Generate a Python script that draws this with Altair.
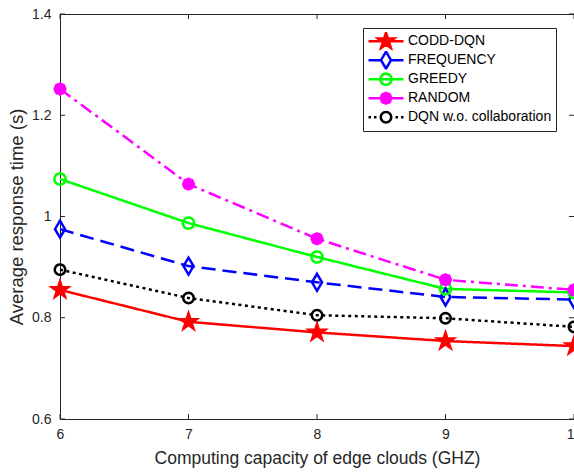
import math
import altair as alt
import pandas as pd

# ---------------- data ----------------
capacity = [6, 7, 8, 9, 10]
series_names = ["CODD-DQN", "FREQUENCY", "GREEDY", "RANDOM", "DQN w.o. collaboration"]
codd_dqn = [0.855, 0.792, 0.771, 0.754, 0.744]
frequency = [0.975, 0.902, 0.870, 0.841, 0.836]
greedy = [1.074, 0.987, 0.920, 0.857, 0.850]
random_ = [1.252, 1.064, 0.956, 0.875, 0.855]
dqn_wo = [0.895, 0.839, 0.805, 0.799, 0.782]
x_ticks = [6, 7, 8, 9, 10]
y_ticks = [0.6, 0.8, 1.0, 1.2, 1.4]

all_values = [codd_dqn, frequency, greedy, random_, dqn_wo]
df = pd.DataFrame({
    "capacity": capacity * len(series_names),
    "series": [s for s in series_names for _ in capacity],
    "time": [v for vals in all_values for v in vals],
})

# ---------------- styles ----------------
W, H = 514, 405
FONT = "Liberation Sans"
TXT = "#262626"
colors = ["#FF0000", "#0000FF", "#00FF00", "#FF00FF", "#000000"]
fills = ["#FF0000", "transparent", "transparent", "#FF00FF", "transparent"]
dashes = [[1, 0], [14, 7], [1, 0], [13, 5, 3, 5], [3, 3.5]]


def poly(pts):
    return "M" + "L".join(f"{x:.3f},{y:.3f}" for x, y in pts) + "Z"


def circle(r, n=32):
    return poly([(r * math.cos(2 * math.pi * k / n), r * math.sin(2 * math.pi * k / n)) for k in range(n)])


def star(R):
    r = R * 0.382
    pts = []
    for k in range(10):
        a = -math.pi / 2 + k * math.pi / 5
        rr = R if k % 2 == 0 else r
        pts.append((rr * math.cos(a), rr * math.sin(a)))
    return poly(pts)


def diamond(hw, hh):
    return poly([(0, -hh), (hw, 0), (0, hh), (-hw, 0)])


def blob(r, s):
    d = s * 0.707
    return circle(r) + (f"M{-s:.3f},0L{s:.3f},0M0,{-s:.3f}L0,{s:.3f}"
                        f"M{-d:.3f},{-d:.3f}L{d:.3f},{d:.3f}M{-d:.3f},{d:.3f}L{d:.3f},{-d:.3f}")


def marker(i, u):
    # u = pixels per path unit
    if i == 0:
        return star(8.5 / u)
    if i == 1:
        return diamond(5.0 / u, 8.5 / u)
    if i == 2:
        return circle(5.6 / u)
    if i == 3:
        return blob(5.0 / u, 6.5 / u)
    return circle(5.2 / u)


PT_SIZE = 400            # 10 px per unit
LG_SIZE = 1225           # 17.5 px per unit
u_p = math.sqrt(PT_SIZE) / 2
u_l = math.sqrt(LG_SIZE) / 2


def seg(a, b):
    return f"M{a / u_l:.3f},0L{b / u_l:.3f},0"


legend_paths = [
    seg(-17.5, 17.5) + marker(0, u_l),
    seg(-17.5, -5.0) + seg(5.0, 17.5) + marker(1, u_l),
    seg(-17.5, 17.5) + marker(2, u_l),
    seg(-17.5, 17.5) + marker(3, u_l),
    seg(-17.5, -15.0) + seg(-12.0, -9.5) + seg(9.5, 12.0) + seg(15.0, 17.5) + marker(4, u_l),
]

xs = alt.Scale(domain=[6, 10], nice=False, zero=False)
ys = alt.Scale(domain=[0.6, 1.4], nice=False, zero=False)
XT = "Computing capacity of edge clouds (GHZ)"
YT = "Average response time (s)"

xax = alt.Axis(values=x_ticks, format="d", labelFlush=False, labelFontSize=14, labelPadding=8,
               titleFontSize=17.5, titlePadding=8, ticks=False, domain=False, grid=False,
               labelColor=TXT, titleColor=TXT, labelFont=FONT, titleFont=FONT,
               titleFontWeight="normal")
yax = alt.Axis(values=y_ticks, format="~g", labelFlush=False, labelFontSize=14, labelPadding=9,
               titleFontSize=18.5, titlePadding=5, ticks=False, domain=False, grid=False,
               labelColor=TXT, titleColor=TXT, labelFont=FONT, titleFont=FONT,
               titleFontWeight="normal")

X = alt.X("capacity:Q", scale=xs, axis=xax, title=XT)
Y = alt.Y("time:Q", scale=ys, axis=yax, title=YT)

base = alt.Chart(df)

series_layers = []
for i, name in enumerate(series_names):
    sub = base.transform_filter(alt.datum.series == name)
    series_layers.append(
        sub.mark_line(strokeWidth=2.5, color=colors[i], strokeDash=dashes[i], clip=False)
        .encode(x=X, y=Y)
    )
for i, name in enumerate(series_names):
    sub = base.transform_filter(alt.datum.series == name)
    series_layers.append(
        sub.mark_point(shape=marker(i, u_p), size=PT_SIZE, filled=True, fill=fills[i],
                       stroke=colors[i], strokeWidth=2.5, opacity=1)
        .encode(x=X, y=Y)
    )

leg = alt.Legend(title=None, orient="none", legendX=303, legendY=14, padding=4,
                 strokeColor=TXT, fillColor="white", symbolSize=LG_SIZE, symbolStrokeWidth=2.5,
                 clipHeight=18.4, rowPadding=0, labelFontSize=14, labelFont=FONT,
                 labelColor="#000000", labelOffset=3, symbolOffset=0, labelLimit=400)

legend_layer = base.transform_filter("false").mark_point(filled=False, opacity=1, strokeWidth=2.5).encode(
    x=X, y=Y,
    stroke=alt.Stroke("series:N", scale=alt.Scale(domain=series_names, range=colors), legend=leg),
    fill=alt.Fill("series:N", scale=alt.Scale(domain=series_names, range=fills), legend=leg),
    shape=alt.Shape("series:N", scale=alt.Scale(domain=series_names, range=legend_paths), legend=leg),
)

# inward tick marks of the MATLAB box, positioned by the shared scales
tick_x = alt.Chart(pd.DataFrame({"capacity": x_ticks}))
tick_y = alt.Chart(pd.DataFrame({"time": y_ticks}))
rule_kw = dict(color=TXT, strokeWidth=1)
ticks_bottom = tick_x.mark_rule(**rule_kw).encode(x=X, y=alt.value(H), y2=alt.value(H - 5))
ticks_top = tick_x.mark_rule(**rule_kw).encode(x=X, y=alt.value(0), y2=alt.value(5))
ticks_left = tick_y.mark_rule(**rule_kw).encode(y=Y, x=alt.value(0), x2=alt.value(5))
ticks_right = tick_y.mark_rule(**rule_kw).encode(y=Y, x=alt.value(W), x2=alt.value(W - 5))

chart = alt.layer(
    *series_layers, ticks_bottom, ticks_top, ticks_left, ticks_right, legend_layer
).properties(
    width=W, height=H,
    autosize=alt.AutoSizeParams(type="none"),
    padding={"left": 60, "top": 14, "right": 0, "bottom": 54},
    background="white",
    title=alt.Title("(a)", fontSize=17, font=FONT, fontWeight="normal", color=TXT,
                    offset=14, dx=-16, baseline="alphabetic", frame="group", anchor="middle"),
).configure_view(
    stroke=TXT, strokeWidth=1
)

chart.save("out.html", embed_options={"renderer": "svg", "actions": False})
